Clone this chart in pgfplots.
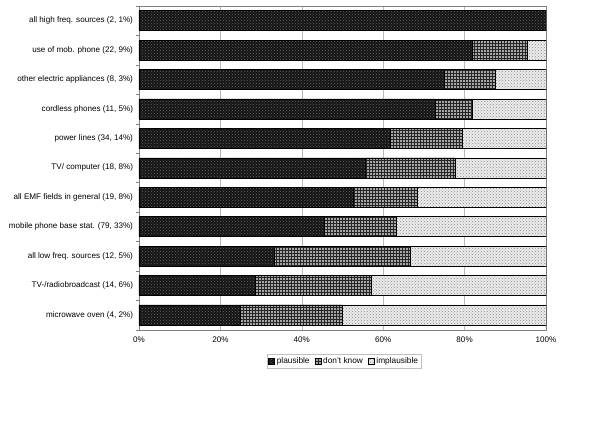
\documentclass[border=0pt]{standalone}
\usepackage{pgfplots}
\usepackage{pgfplotstable}
\pgfplotsset{compat=1.18}
\usetikzlibrary{patterns}
\usepackage{fontspec}
\setmainfont{Liberation Sans}

\pgfplotstableread{
idx pl dk im
0 100 0 0
1 81.8 13.6 4.6
2 75.0 12.5 12.5
3 72.7 9.1 18.2
4 61.8 17.6 20.6
5 55.6 22.2 22.2
6 52.6 15.8 31.6
7 45.6 17.7 36.7
8 33.3 33.4 33.3
9 28.6 28.5 42.9
10 25.0 25.0 50.0
}\data

\begin{document}
\begin{tikzpicture}
\useasboundingbox (0,0) rectangle (600pt,424pt);
\begin{axis}[
  xbar stacked,
  bar width=20pt,
  y dir=reverse,
  scale only axis,
  width=407pt, height=323.7pt,
  at={(139pt,94.3pt)}, anchor=south west,
  xmin=0, xmax=100, ymin=-0.5, ymax=10.5,
  xtick={0,20,...,100},
  xticklabel={\pgfmathprintnumber{\tick}\%},
  /pgf/number format/assume math mode=true,
  ytick={0,...,10},
  yticklabels={{all high freq. sources (2, 1\%)},{use of mob. phone (22, 9\%)},{other electric appliances (8, 3\%)},{cordless phones (11, 5\%)},{power lines (34, 14\%)},{TV/ computer (18, 8\%)},{all EMF fields in general (19, 8\%)},{mobile phone base stat. (79, 33\%)},{all low freq. sources (12, 5\%)},{TV-/radiobroadcast (14, 6\%)},{microwave oven (4, 2\%)}},
  tick label style={font=\fontsize{8.1}{10}\selectfont},
  yticklabel style={xshift=-2.5pt},
  xticklabel style={yshift=-4pt},
  ytick pos=left, xtick pos=bottom,
  major tick length=0pt,
  minor ytick={-0.5,0.5,...,10.5},
  minor tick length=3pt,
  minor tick style={gray},
  tick align=outside,
  xmajorgrids,
  grid style={gray!55, line width=0.5pt},
  axis line style={gray},
  legend style={at={(0.504,-0.097)}, anchor=center, legend columns=-1, draw=gray!50,
     font=\fontsize{8.3}{10}\selectfont, inner sep=1.5pt,
     /tikz/every even column/.append style={column sep=3pt}},
  legend image code/.code={\draw[#1] (0pt,-3pt) rectangle (6pt,3pt);},
]
\addplot[draw=black, line width=0.6pt, fill=black!92, postaction={pattern=crosshatch dots, pattern color=black!60}] table[x=pl, y=idx] {\data};
\addplot[draw=black, line width=0.6pt, fill=black!35, postaction={pattern=grid, pattern color=black!85}] table[x=dk, y=idx] {\data};
\addplot[draw=black, line width=0.6pt, fill=black!8, postaction={pattern=crosshatch dots, pattern color=black!45}] table[x=im, y=idx] {\data};
\legend{plausible, don't know, implausible}
\end{axis}
\end{tikzpicture}
\end{document}
